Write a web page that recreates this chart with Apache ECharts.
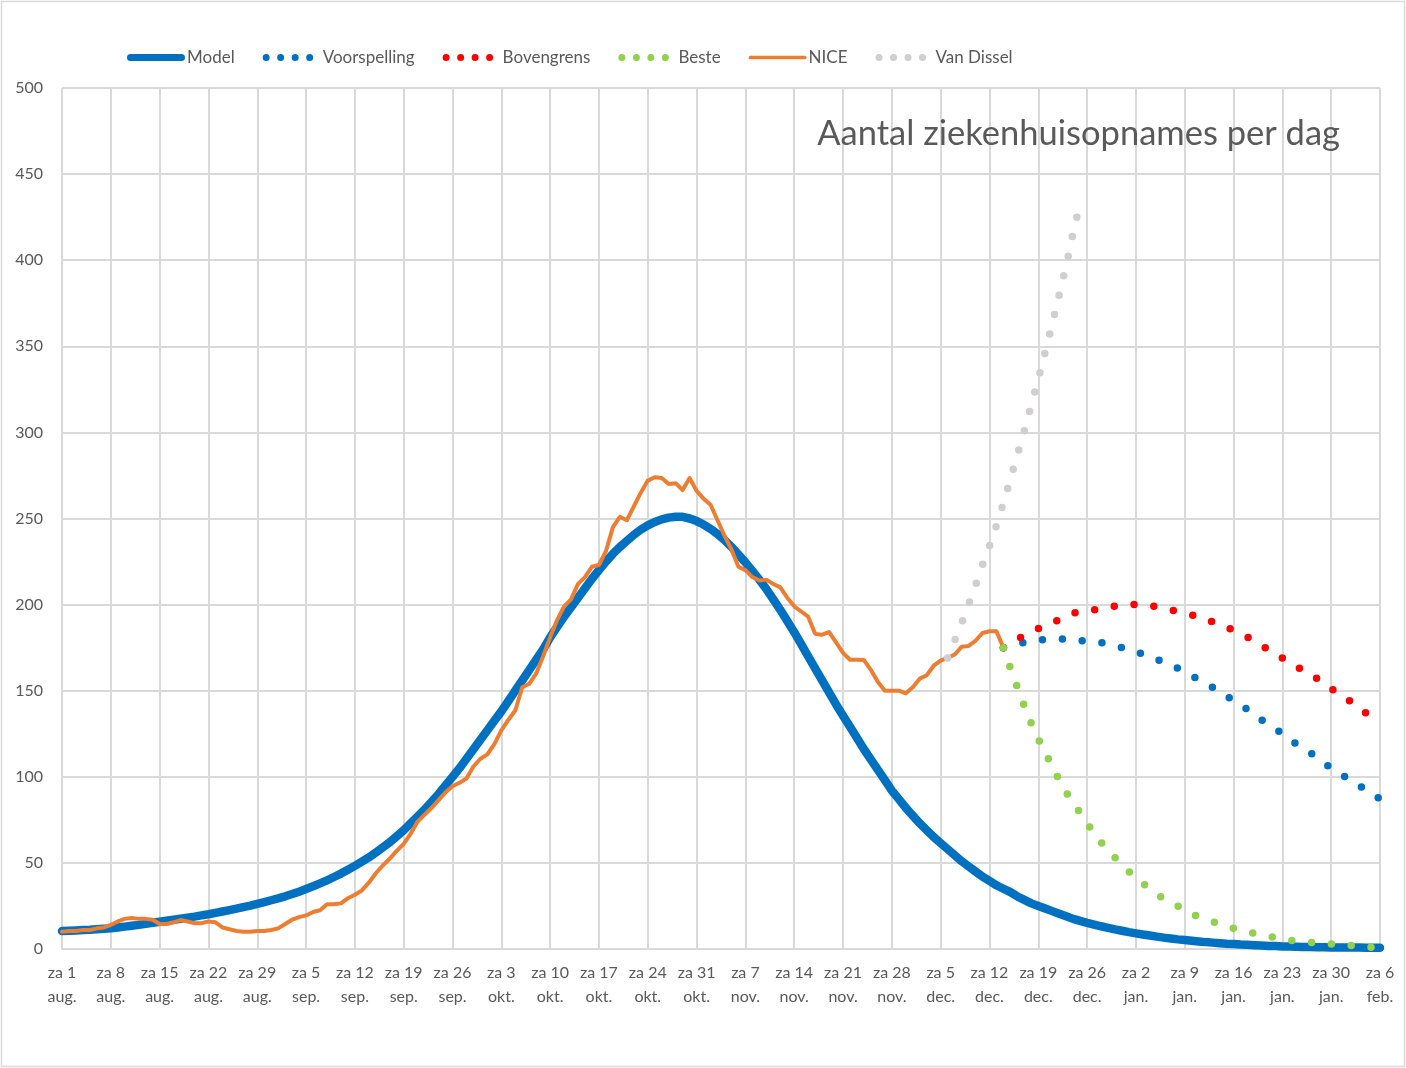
<!DOCTYPE html>
<html>
<head>
<meta charset="utf-8">
<script src="https://cdn.jsdelivr.net/npm/echarts@6/dist/echarts.min.js"></script>
<style>
  html, body { margin: 0; padding: 0; background: #fff; }
  #chart { width: 1406px; height: 1068px; }
</style>
</head>
<body>
<div id="chart"></div>
<script>
// one tick label per week (every 7th day), day 0 = za 1 aug.
var tickLabels = [
  'za 1\naug.', 'za 8\naug.', 'za 15\naug.', 'za 22\naug.', 'za 29\naug.',
  'za 5\nsep.', 'za 12\nsep.', 'za 19\nsep.', 'za 26\nsep.',
  'za 3\nokt.', 'za 10\nokt.', 'za 17\nokt.', 'za 24\nokt.', 'za 31\nokt.',
  'za 7\nnov.', 'za 14\nnov.', 'za 21\nnov.', 'za 28\nnov.',
  'za 5\ndec.', 'za 12\ndec.', 'za 19\ndec.', 'za 26\ndec.',
  'za 2\njan.', 'za 9\njan.', 'za 16\njan.', 'za 23\njan.', 'za 30\njan.',
  'za 6\nfeb.'
];
var nDays = 190;

// Model, daily from 1 aug
var model = [
  10.4,10.6,10.8,11,11.2,11.5,11.8,12.1,12.5,13,
  13.5,14,14.6,15.2,15.8,16.4,17,17.6,18.2,18.8,
  19.5,20.2,21,21.8,22.6,23.4,24.3,25.2,26.2,27.2,
  28.3,29.4,30.6,31.9,33.3,34.8,36.4,38.1,39.9,41.8,
  43.8,46,48.3,50.7,53.2,56,59,62,65.5,69,
  73,77,81,85.5,90,95,100,105,110.5,116,
  121.5,127,132.5,138,144,150,156,162,168,174,
  181,187,193,198.5,204,209.5,215,220,225,229.5,
  233.5,237,240.5,243.5,246,248,249.5,250.5,251,251,
  250,248.5,246.5,244,241,237.5,233.5,229,224.5,219.5,
  214.5,209,203,197,190.5,184,177,170,163,156,
  149,142,135.5,129,122.5,116,110,104,98,92,
  87,82,77.5,73,69,65,61.5,58,54.5,51,
  48,45,42,39.5,37,35,33,30.5,28.5,26.5,
  25,23.5,22,20.5,19,17.5,16.3,15.2,14.2,13.2,
  12.3,11.4,10.6,9.8,9.1,8.4,7.8,7.2,6.6,6.1,
  5.6,5.2,4.8,4.4,4,3.7,3.4,3.1,2.9,2.6,
  2.4,2.2,2,1.8,1.7,1.5,1.4,1.3,1.2,1.1,
  1,1,0.9,0.9,0.8,0.8,0.8,0.7,0.7,0.7
];

// NICE, daily from 1 aug to 14 dec
var nice = [
  10,10.5,10.5,11,11,12,12.5,14,16,17.5,
  18,17.5,17.5,17,14.5,14.5,15.5,16.8,16,15,
  15,16,15.5,12.5,11.5,10.5,10,10,10.5,10.5,
  11,12,14.5,17,18.5,19.5,21.5,22.5,26,26,
  26.5,29.5,31.5,34,38.5,44,48.5,52.5,57,61,
  67,74,78,82,86.5,91,94.5,96.5,99,106,
  110.5,113,119,127,133,138.5,152,154,160,170,
  181,191,199,203,212,216,222,223,231,245,
  251,249,257,265,272,274,273.5,270,270.5,266.5,
  273.5,266,261.5,258,249,240,232,222,220,216,
  214,214.5,212,210,204,199,196,193,183,182.5,
  184,178,172,168,168,167.8,162,155,150,150,
  150,148.5,152,157,159,164.5,167.5,169,171,175.5,
  176,179,183.5,184.5,184.5,175
];

// forecasts, daily from 14 dec (day 135)
var forecastStart = 135;
var voorspelling = [
  175,176,177,178,179,179,180,180,180,180,
  180,179,179,178,178,177,176,175,174,173,
  171,170,168,167,165,163,161,159,156,154,
  152,149,147,144,142,139,136,133,131,128,
  125,122,119,116,114,111,108,105,103,100,
  97,95,92,90,87
];
var bovengrens = [
  175,178,180,182,184,186,188,190,191,193,
  195,196,197,197,198,199,199,199,200,200,
  199,199,199,198,197,196,195,194,193,191,
  190,188,187,185,183,181,179,176,174,172,
  169,167,164,162,159,157,154,151,149,146,
  143,140,137,134,131
];
var beste = [
  175,163,152,141,131,122,114,106,98,91,
  85,79,73,67,62,57,53,49,45,41,
  38,35,32,29,27,25,22,20,19,17,
  16,14,13,12,11,10,9,8,7,7,
  6,5,5,4,4,3,3,3,2,2,
  2,2,1,1,1
];

// Van Dissel, daily from 6 dec (day 127)
var vanDisselStart = 127;
var vanDissel = [
  169,179,189,200,211,223,234,246,259,273,
  287,301,316,331,347,363,380,397,416,433
];

function place(arr, start) {
  var out = [];
  for (var i = 0; i < nDays; i++) {
    var k = i - start;
    out.push(k >= 0 && k < arr.length ? arr[k] : null);
  }
  return out;
}

var days = [];
for (var d = 0; d < nDays; d++) days.push(d);

var FONT = 'Lato, "Open Sans", sans-serif';
var TXT = '#595959';
var GRID = '#d9d9d9';

// legend icons, drawn in a 58 x 9 box (tiny specks pin the box corners)
var BOX = 'M0,0h0.01v0.01h-0.01Z M57.99,8.99h0.01v0.01h-0.01Z ';
var ICON_THICK = 'path://' + BOX + 'M3.5,1 H54.5 A3.5,3.5 0 0 1 54.5,8 H3.5 A3.5,3.5 0 0 1 3.5,1 Z';
var ICON_THIN = 'path://' + BOX + 'M1.5,2.6 H56.5 A1.9,1.9 0 0 1 56.5,6.4 H1.5 A1.9,1.9 0 0 1 1.5,2.6 Z';
var ICON_DOTS = 'path://' + BOX + [3.5, 18, 32.5, 47].map(function (cx) {
  return 'M' + (cx - 3.5) + ',4.5 a3.5,3.5 0 1,0 7,0 a3.5,3.5 0 1,0 -7,0 Z';
}).join(' ');

function dotted(name, color, data) {
  return {
    name: name,
    type: 'line',
    data: data,
    symbol: 'none',
    z: 4,
    color: color,
    lineStyle: { color: color, width: 7.5, type: [0, 20], cap: 'round' }
  };
}

var chart = echarts.init(document.getElementById('chart'));
chart.setOption({
  animation: false,
  backgroundColor: '#fff',
  title: {
    text: 'Aantal ziekenhuisopnames per dag',
    right: 61,
    top: 111,
    textStyle: { fontFamily: FONT, fontSize: 34.5, fontWeight: 'normal', color: TXT }
  },
  legend: {
    left: 122,
    top: 44,
    itemWidth: 58,
    itemHeight: 9,
    itemGap: 28,
    itemStyle: { borderWidth: 0 },
    textStyle: { fontFamily: FONT, fontSize: 17, color: TXT, padding: [0, 0, 0, -3] },
    data: [
      { name: 'Model', icon: ICON_THICK },
      { name: 'Voorspelling', icon: ICON_DOTS },
      { name: 'Bovengrens', icon: ICON_DOTS },
      { name: 'Beste', icon: ICON_DOTS },
      { name: 'NICE', icon: ICON_THIN },
      { name: 'Van Dissel', icon: ICON_DOTS }
    ]
  },
  grid: { left: 62, right: 26, top: 88, bottom: 119, containLabel: false },
  xAxis: {
    type: 'category',
    data: days,
    boundaryGap: false,
    axisLine: { lineStyle: { color: GRID, width: 2 } },
    axisTick: { show: false },
    splitLine: { show: true, interval: 6, lineStyle: { color: GRID, width: 2 } },
    axisLabel: {
      interval: 6,
      margin: 12,
      lineHeight: 24,
      fontFamily: FONT,
      fontSize: 16,
      color: TXT,
      formatter: function (v, idx) { return tickLabels[idx / 7] || ''; }
    }
  },
  yAxis: {
    type: 'value',
    min: 0,
    max: 500,
    interval: 50,
    axisLine: { show: false },
    axisTick: { show: false },
    splitLine: { lineStyle: { color: GRID, width: 2 } },
    axisLabel: { margin: 19, fontFamily: FONT, fontSize: 16, color: TXT }
  },
  series: [
    {
      name: 'Model',
      type: 'line',
      data: model,
      symbol: 'none',
      z: 2,
      color: '#0070c0',
      lineStyle: { color: '#0070c0', width: 8.5, cap: 'round', join: 'round' }
    },
    dotted('Voorspelling', '#0070c0', place(voorspelling, forecastStart)),
    dotted('Bovengrens', '#ff0000', place(bovengrens, forecastStart)),
    {
      name: 'NICE',
      type: 'line',
      data: place(nice, 0),
      symbol: 'none',
      z: 3,
      color: '#ed7d31',
      lineStyle: { color: '#ed7d31', width: 4, cap: 'round', join: 'round' }
    },
    dotted('Beste', '#92d050', place(beste, forecastStart)),
    dotted('Van Dissel', '#d0cece', place(vanDissel, vanDisselStart))
  ],
  graphic: [{
    type: 'rect',
    shape: { x: 1.5, y: 1.5, width: 1403, height: 1065 },
    style: { fill: null, stroke: GRID, lineWidth: 1.5 },
    silent: true
  }]
});
</script>
</body>
</html>
